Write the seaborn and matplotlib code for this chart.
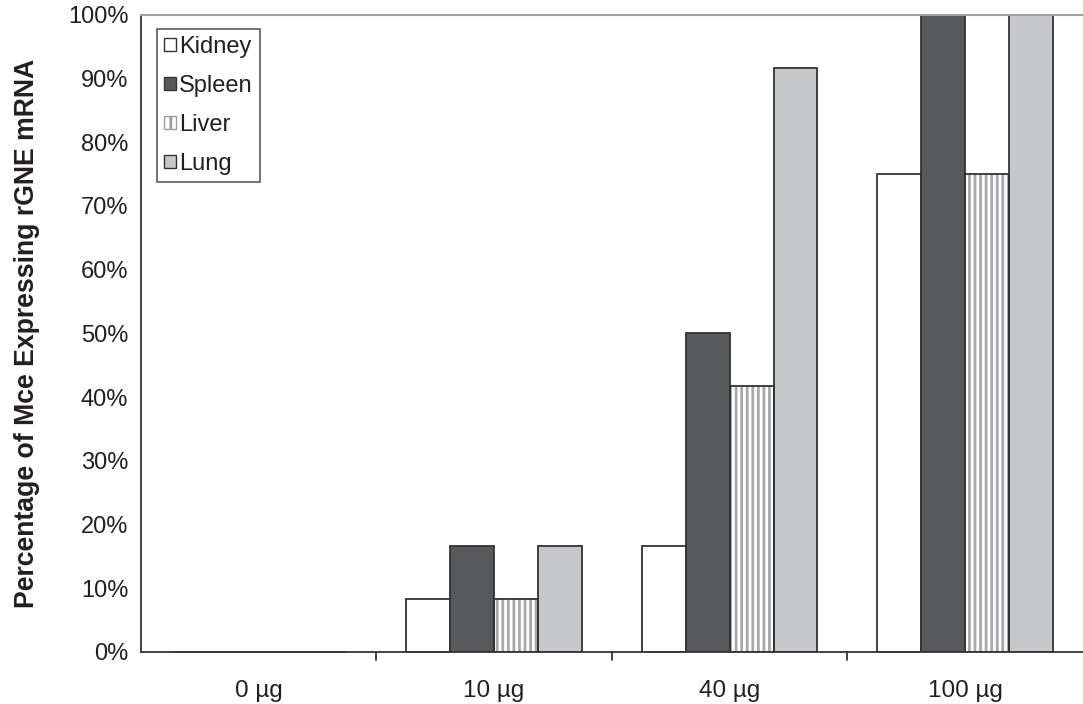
import matplotlib
matplotlib.use("Agg")
import matplotlib.pyplot as plt
import seaborn as sns
import pandas as pd
from matplotlib.patches import Patch
from matplotlib.ticker import PercentFormatter

doses = ["0 µg", "10 µg", "40 µg", "100 µg"]
organs = ["Kidney", "Spleen", "Liver", "Lung"]
kidney = [0, 8.33, 16.67, 75.0]
spleen = [0, 16.67, 50.0, 100.0]
liver = [0, 8.33, 41.67, 75.0]
lung = [0, 16.67, 91.67, 100.0]

rows = []
for org, vals in zip(organs, [kidney, spleen, liver, lung]):
    for d, v in zip(doses, vals):
        rows.append({"dose": d, "organ": org, "pct": v})
df = pd.DataFrame(rows)

sns.set_style("white")
plt.rcParams['font.family'] = ['Liberation Sans', 'DejaVu Sans']
plt.rcParams['hatch.linewidth'] = 2.0

fig = plt.figure(figsize=(10.83, 7.04), dpi=100)
ax = fig.add_axes([0.130, 0.074, 0.870, 0.905])

colors = {"Kidney": "#ffffff", "Spleen": "#58595b", "Liver": "#ffffff", "Lung": "#c7c8ca"}
sns.barplot(data=df, x="dose", y="pct", hue="organ", order=doses, hue_order=organs,
            palette=colors, width=0.745, gap=0, edgecolor="#333333", linewidth=1.3,
            legend=False, ax=ax)

# Liver hatch: gray vertical stripes
for cont, org in zip(ax.containers, organs):
    if org == "Liver":
        for p in cont.patches:
            if p.get_height() > 0:
                ax.bar(p.get_x() + p.get_width() / 2, p.get_height(), width=p.get_width(),
                       facecolor="none", edgecolor="#a7a9ac", hatch="|||", linewidth=0,
                       zorder=p.get_zorder() - 0.1)
                p.set_facecolor("none")
                p.set_zorder(p.get_zorder() + 0.5)

ax.set_ylim(0, 100)
ax.set_xlim(-0.5, 3.5)
ax.set_yticks(range(0, 101, 10))
ax.yaxis.set_major_formatter(PercentFormatter(decimals=0))
ax.set_xlabel("")
ax.set_ylabel("Percentage of Mce Expressing rGNE mRNA", fontsize=19.2, fontweight="bold",
              labelpad=20, color="#231f20")

ax.spines["right"].set_visible(False)
ax.spines["top"].set_color("#a0a0a0")
ax.spines["top"].set_linewidth(1.5)
for s in ["left", "bottom"]:
    ax.spines[s].set_color("#333333")
    ax.spines[s].set_linewidth(1.3)

ax.tick_params(axis="y", direction="out", length=7, width=1.3, color="#333333", labelsize=17, pad=2,
               labelcolor="#231f20")
ax.set_xticks([0, 1, 2, 3])
ax.set_xticklabels(doses, fontsize=17.5, color="#231f20")
ax.tick_params(axis="x", length=0, pad=20)
for xb in [0.5, 1.5, 2.5]:
    ax.plot([xb, xb], [0, -1.3], color="#333333", lw=1.3, clip_on=False)

handles = [Patch(facecolor="#ffffff", edgecolor="#333333", label="Kidney"),
           Patch(facecolor="#58595b", edgecolor="#333333", label="Spleen"),
           Patch(facecolor="#ffffff", edgecolor="#9d9fa2", hatch="||", label="Liver"),
           Patch(facecolor="#c7c8ca", edgecolor="#333333", label="Lung")]
leg = ax.legend(handles=handles, loc="upper left", bbox_to_anchor=(0.017, 0.978), frameon=True,
                fancybox=False, edgecolor="#333333", fontsize=17, handlelength=0.5, handleheight=0.5,
                handletextpad=0.15, labelspacing=0.72, borderpad=0.3, borderaxespad=0)
leg.get_frame().set_linewidth(1.2)
for t in leg.get_texts():
    t.set_color("#231f20")

fig.savefig("out.png", dpi=100)
